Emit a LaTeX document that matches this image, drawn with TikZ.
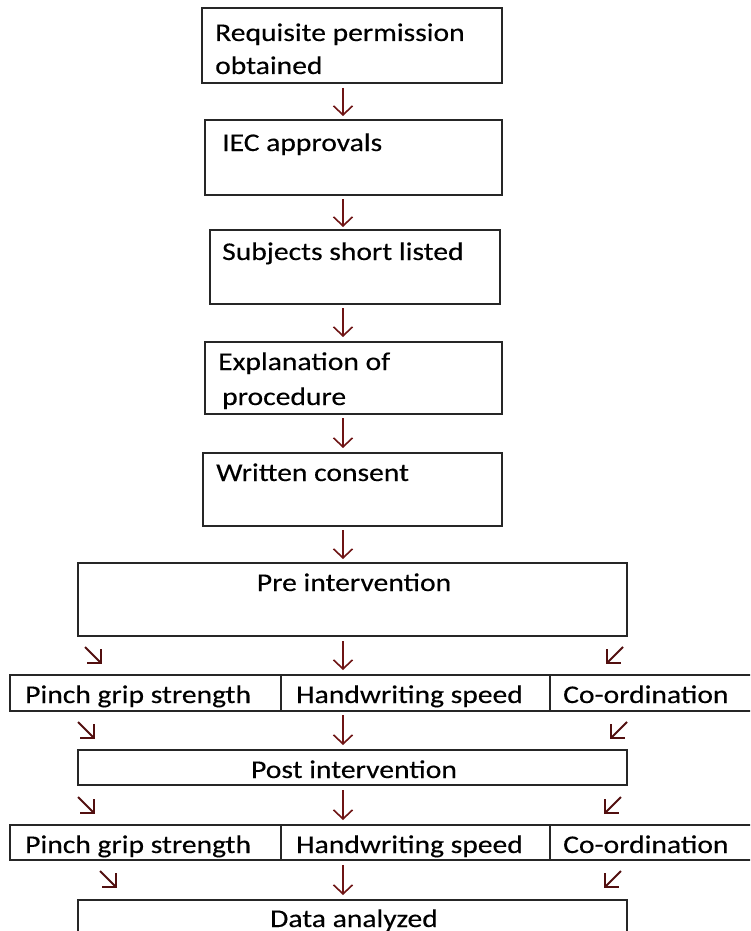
\documentclass[tikz,border=0pt]{standalone}
\usepackage{fontspec}
\setmainfont{Carlito}[FakeStretch=1.16,FakeBold=0.3]
\usetikzlibrary{arrows.meta}
\definecolor{arrred}{RGB}{110,20,20}
\tikzset{
  box/.style={draw=black!85, line width=1.6pt, rectangle, inner sep=0pt},
  txt/.style={anchor=base west, inner sep=0pt, font=\fontsize{25.5}{33}\selectfont, text=black},
  ctxt/.style={anchor=base, inner sep=0pt, font=\fontsize{25.5}{33}\selectfont, text=black},
  arr/.style={draw=arrred, line width=1.6pt, -{Straight Barb[length=9pt,width=19pt,line width=1.6pt]}},
  darr/.style={draw=arrred!75!black, line width=1.8pt, -{Straight Barb[angle=90:14pt,line width=1.8pt]}}
}
\begin{document}
\begin{tikzpicture}[x=1pt,y=-1pt]
\useasboundingbox (0,0) rectangle (750,931);
\clip (0,0) rectangle (750,931);
% boxes
\draw[box] (202,8) rectangle (502,83);
\node[txt] (t1a) at (215,41) {Requisite permission};
\node[txt] (t1b) at (215,74) {obtained};
\draw[box] (205,120) rectangle (502,195);
\node[txt] (t2) at (222,151) {IEC approvals};
\draw[box] (210,230) rectangle (500,304);
\node[txt] (t3) at (222,260) {Subjects short listed};
\draw[box] (205,342) rectangle (502,414);
\node[txt] (t4a) at (218,370) {Explanation of};
\node[txt] (t4b) at (222,405) {procedure};
\draw[box] (203,453) rectangle (502,526);
\node[txt] (t5) at (216,481) {Written consent};
\draw[box] (78,563) rectangle (627,636);
\node[ctxt] (t6) at (354,591) {Pre intervention};
% row 1
\draw[box] (10,675) rectangle (281,711);
\draw[box] (281,675) rectangle (550,711);
\draw[box] (550,675) rectangle (770,711);
\node[txt] (p1) at (25,703) {Pinch grip strength};
\node[txt] (h1) at (296,703) {Handwriting speed};
\node[txt] (c1) at (563,703) {Co-ordination};
\draw[box] (78,750) rectangle (627,785);
\node[ctxt] (t8) at (354,778) {Post intervention};
% row 2
\draw[box] (10,825) rectangle (281,860);
\draw[box] (281,825) rectangle (550,860);
\draw[box] (550,825) rectangle (770,860);
\node[txt] (p2) at (25,853) {Pinch grip strength};
\node[txt] (h2) at (296,853) {Handwriting speed};
\node[txt] (c2) at (563,853) {Co-ordination};
\draw[box] (78,900) rectangle (627,960);
\node[ctxt] (t10) at (354,927) {Data analyzed};
% vertical arrows
\foreach \i/\a/\b in {1/88/116, 2/199/227, 3/308/337, 4/418/448, 5/530/559, 6/641/670, 7/715/745, 8/790/820, 9/865/895}{
  \coordinate (vs\i) at (343,\a);
  \coordinate (ve\i) at (343,\b);
  \draw[arr] (vs\i) -- (ve\i);
}
% diagonal arrows
\foreach \i/\x/\y in {1/85/647, 2/78/722, 3/78/797, 4/100/871}{
  \coordinate (ds\i) at (\x,\y);
  \coordinate (de\i) at (\x+17,\y+17);
  \draw[darr] (ds\i) -- (de\i);
}
\foreach \i/\x/\y in {1/623/647, 2/627/722, 3/621/797, 4/621/871}{
  \coordinate (es\i) at (\x,\y);
  \coordinate (ee\i) at (\x-17,\y+17);
  \draw[darr] (es\i) -- (ee\i);
}
\end{tikzpicture}
\end{document}
